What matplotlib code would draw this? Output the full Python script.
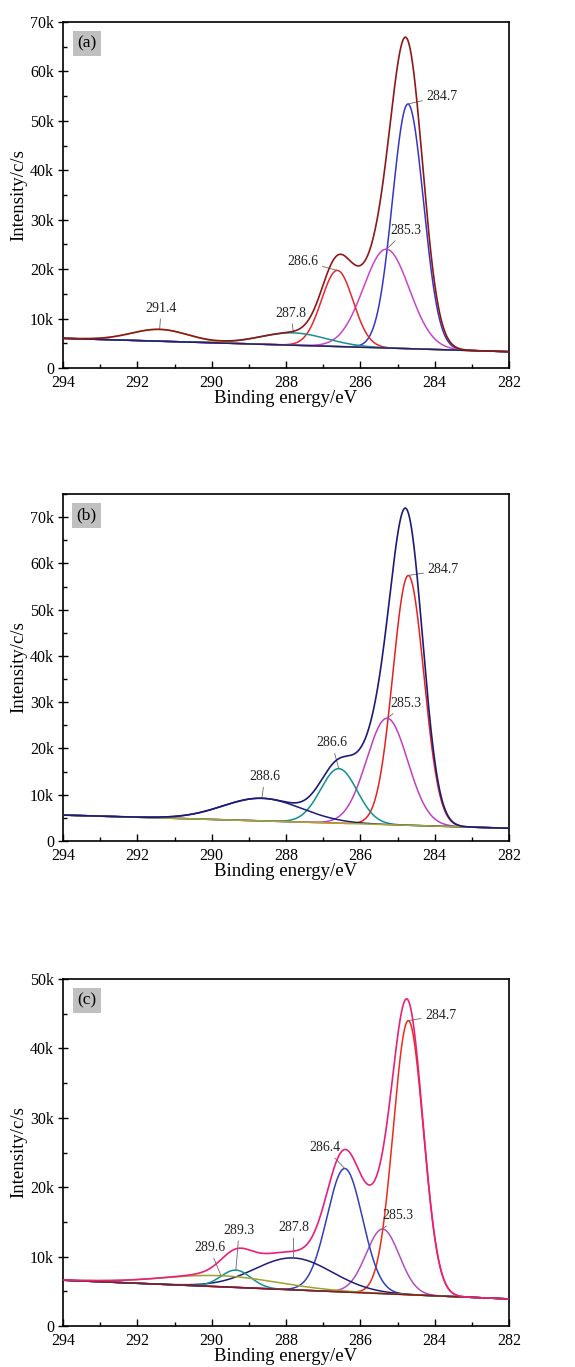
import numpy as np
import matplotlib
matplotlib.use('Agg')
import matplotlib.pyplot as plt
from matplotlib.ticker import MultipleLocator, FuncFormatter

plt.rcParams['font.family'] = ['Liberation Serif', 'DejaVu Serif']

# C1s peak fits: centre (eV), height above background (c/s), FWHM (eV)
# panel (a)
a_labels = ['284.7', '285.3', '286.6', '287.8', '291.4']
a_centers = [284.72, 285.30, 286.62, 287.80, 291.40]
a_heights = [49500, 20000, 15400, 2500, 2400]
a_fwhm = [0.98, 1.45, 1.00, 2.10, 1.80]
a_background = [6000, 3300]  # c/s at 294 eV and 282 eV

# panel (b)
b_labels = ['284.7', '285.3', '286.6', '288.6']
b_centers = [284.71, 285.28, 286.58, 288.65]
b_heights = [54000, 23000, 11800, 4900]
b_fwhm = [0.98, 1.30, 1.16, 2.50]
b_background = [5600, 2750]

# panel (c)
c_labels = ['284.7', '285.3', '286.4', '287.8', '289.3', '289.6']
c_centers = [284.71, 285.40, 286.42, 287.80, 289.35, 289.75]
c_heights = [39500, 9300, 17800, 4600, 2500, 1600]
c_fwhm = [0.95, 1.05, 1.12, 2.45, 0.95, 3.60]
c_background = [6600, 3900]

energy = np.linspace(294, 282, 1201)


def gauss(x, c, h, w):
    return h * np.exp(-4 * np.log(2) * (x - c) ** 2 / w ** 2)


def draw_panel(ax, tag, centers, heights, fwhm, background, labels,
               colors, bg_color, env_color, ymax, label_pos):
    bg = np.interp(energy, [282, 294], [background[1], background[0]])
    total = bg.copy()
    for c, h, w, col in zip(centers, heights, fwhm, colors):
        comp = gauss(energy, c, h, w)
        total += comp
        ax.plot(energy, bg + comp, color=col, lw=1.1, zorder=2)
    ax.plot(energy, bg, color=bg_color, lw=1.1, zorder=3)
    ax.plot(energy, total, color=env_color, lw=1.2, zorder=4)

    for lab, c, h, (tx, ty, ha) in zip(labels, centers, heights, label_pos):
        y0 = np.interp(c, [282, 294], [background[1], background[0]]) + h
        ax.annotate(lab, xy=(c, y0), xytext=(tx, ty), ha=ha, va='center',
                    fontsize=10, color='#222222',
                    arrowprops=dict(arrowstyle='-', color='#666666', lw=0.6,
                                    shrinkA=1, shrinkB=0))

    ax.text(0.053, 0.938, tag, transform=ax.transAxes, ha='center', va='center',
            fontsize=12.5,
            bbox=dict(boxstyle='square,pad=0.25', facecolor='#c0c0c0', edgecolor='none'))

    ax.set_xlim(294, 282)
    ax.set_ylim(0, ymax)
    ax.xaxis.set_major_locator(MultipleLocator(2))
    ax.xaxis.set_minor_locator(MultipleLocator(1))
    ax.yaxis.set_major_locator(MultipleLocator(10000))
    ax.yaxis.set_minor_locator(MultipleLocator(5000))
    ax.yaxis.set_major_formatter(FuncFormatter(lambda v, p: '0' if v == 0 else '%dk' % round(v / 1000)))
    ax.tick_params(axis='y', which='major', direction='inout', length=7, width=1, labelsize=11.5, pad=3)
    ax.tick_params(axis='x', which='major', direction='in', length=5, width=1, labelsize=11.5, pad=5)
    ax.tick_params(which='minor', direction='in', length=3, width=1)
    for s in ax.spines.values():
        s.set_linewidth(1.2)
    ax.set_xlabel('Binding energy/eV', fontsize=13.5, labelpad=-1)
    ax.set_ylabel('Intensity/c/s', fontsize=13.5, labelpad=2)


fig = plt.figure(figsize=(5.75, 13.67), dpi=100)
ax_a = fig.add_axes([0.1096, 0.7308, 0.7757, 0.2531])
ax_b = fig.add_axes([0.1096, 0.3848, 0.7757, 0.2538])
ax_c = fig.add_axes([0.1096, 0.0300, 0.7757, 0.2538])

draw_panel(ax_a, '(a)', a_centers, a_heights, a_fwhm, a_background, a_labels,
           ['#3535c8', '#c844c8', '#e8262b', '#1a9090', '#c8a828'],
           '#1f1f7a', '#8e1818', 70000,
           [(284.22, 55000, 'left'), (284.77, 27800, 'center'), (287.55, 21600, 'center'),
            (287.87, 11100, 'center'), (291.36, 12100, 'center')])

draw_panel(ax_b, '(b)', b_centers, b_heights, b_fwhm, b_background, b_labels,
           ['#e82020', '#c040c0', '#109090', '#1c1c78'],
           '#a8a830', '#1c1c78', 75000,
           [(284.19, 58600, 'left'), (284.77, 29700, 'center'), (286.77, 21200, 'center'),
            (288.57, 13900, 'center')])

draw_panel(ax_c, '(c)', c_centers, c_heights, c_fwhm, c_background, c_labels,
           ['#ee2a1a', '#b050c0', '#3040b8', '#1c1c78', '#109090', '#a0a030'],
           '#8b1a1a', '#e8207a', 50000,
           [(284.26, 44800, 'left'), (285.0, 15900, 'center'), (286.95, 25700, 'center'),
            (287.8, 14200, 'center'), (289.26, 13800, 'center'), (290.06, 11300, 'center')])

fig.savefig('out.png', dpi=100)
